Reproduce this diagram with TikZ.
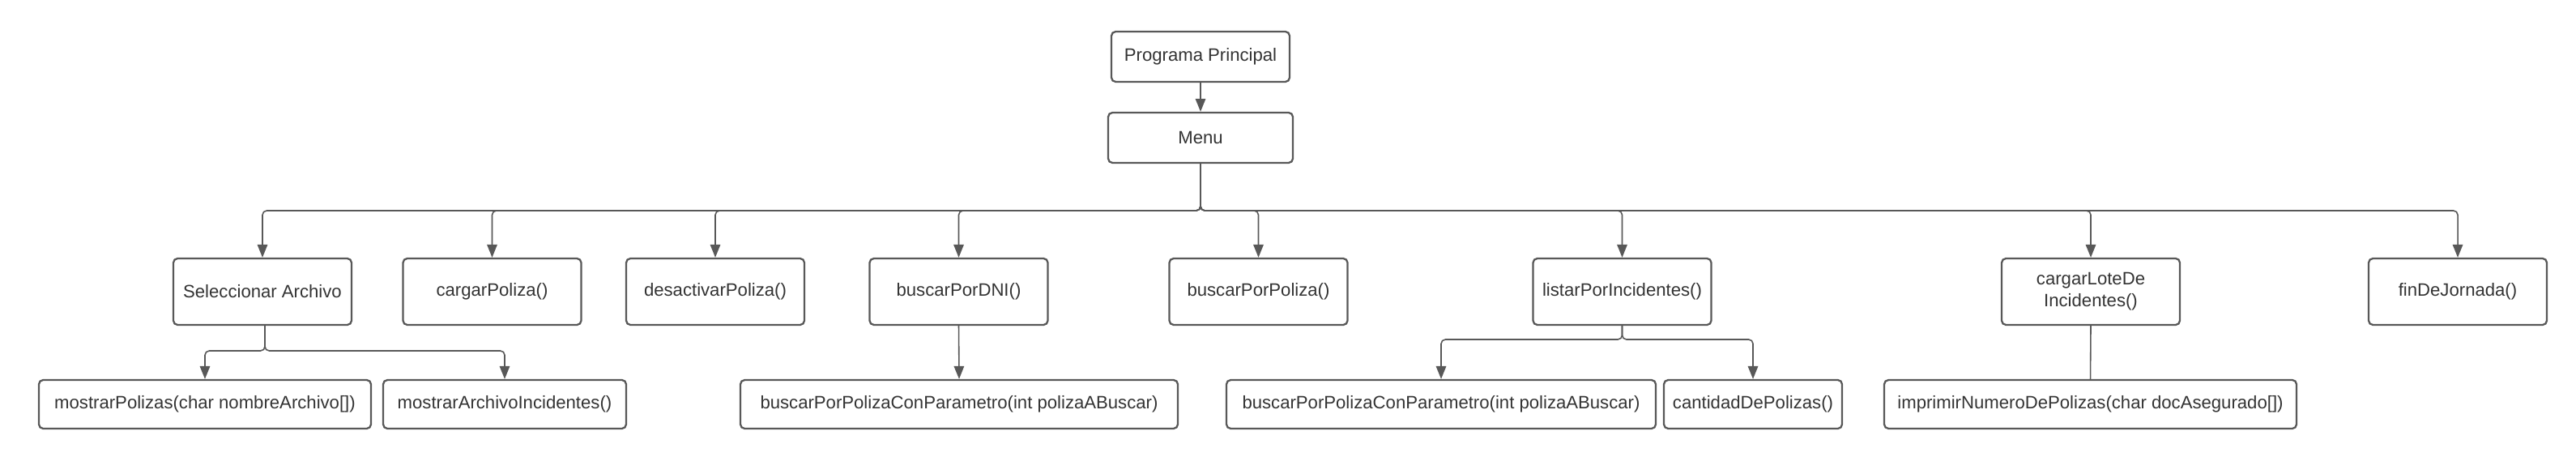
\documentclass[tikz,border=0pt]{standalone}
\usepackage{fontspec}
\setmainfont{Liberation Sans}
\usetikzlibrary{arrows.meta}
\definecolor{borde}{RGB}{88, 88, 88}
\definecolor{texto}{RGB}{51, 51, 51}

\begin{document}
\begin{tikzpicture}[
caja/.style={rectangle, draw=borde, line width=1.3pt, rounded corners=3pt, text=texto, font=\fontsize{12.6}{15.5}\selectfont, align=center, minimum height=1.64cm, minimum width=4.4cm},
hoja/.style={caja, minimum height=1.2cm},
flecha/.style={-{Triangle[length=0.32cm,width=0.25cm]}, draw=borde, line width=0.9pt, rounded corners=3pt},
linea/.style={draw=borde, line width=0.9pt, rounded corners=3pt},
]
\useasboundingbox (0,0) rectangle (63.6,-11.38);
%Nodes
\node[caja, minimum height=1.24cm]                    (prog)    at (29.64,-1.40) {Programa Principal};
\node[caja, minimum height=1.24cm, minimum width=4.56cm] (menu)  at (29.64,-3.40) {Menu};

\node[caja]      (selec)    at (6.48,-7.20) {Seleccionar Archivo};
\node[caja]      (cargar)   at (12.15,-7.20) {cargarPoliza()};
\node[caja]      (desact)   at (17.66,-7.20) {desactivarPoliza()};
\node[caja]      (dni)      at (23.67,-7.20) {buscarPorDNI()};
\node[caja]      (bpoliza)  at (31.07,-7.20) {buscarPorPoliza()};
\node[caja]      (listar)   at (40.05,-7.20) {listarPorIncidentes()};
\node[caja]      (lote)     at (51.62,-7.20) {cargarLoteDe\\Incidentes()};
\node[caja]      (fin)      at (60.68,-7.20) {finDeJornada()};

\node[hoja, minimum width=8.2cm]   (mpol)     at (5.06,-9.98) {mostrarPolizas(char nombreArchivo[])};
\node[hoja, minimum width=6cm]     (march)    at (12.46,-9.98) {mostrarArchivoIncidentes()};
\node[hoja, minimum width=10.8cm]  (bparam1)  at (23.68,-9.98) {buscarPorPolizaConParametro(int polizaABuscar)};
\node[hoja, minimum width=10.6cm]  (bparam2)  at (35.58,-9.98) {buscarPorPolizaConParametro(int polizaABuscar)};
\node[hoja]                        (cant)     at (43.28,-9.98) {cantidadDePolizas()};
\node[hoja, minimum width=10.18cm] (impr)     at (51.61,-9.98) {imprimirNumeroDePolizas(char docAsegurado[])};

\coordinate (bus)    at (29.64,-5.20);
\coordinate (splitS) at (6.54,-8.66);
\coordinate (splitL) at (40.05,-8.38);

\draw[flecha] (prog.south) -- (menu.north);

\draw[flecha] (menu.south) -- (bus) -| (selec.north);
\draw[flecha] (menu.south) -- (bus) -| (cargar.north);
\draw[flecha] (menu.south) -- (bus) -| (desact.north);
\draw[flecha] (menu.south) -- (bus) -| (dni.north);
\draw[flecha] (menu.south) -- (bus) -| (bpoliza.north);
\draw[flecha] (menu.south) -- (bus) -| (listar.north);
\draw[flecha] (menu.south) -- (bus) -| (lote.north);
\draw[flecha] (menu.south) -- (bus) -| (fin.north);

\draw[flecha] (selec.south -| splitS) -- (splitS) -| (mpol.north);
\draw[flecha] (selec.south -| splitS) -- (splitS) -| (march.north);

\draw[flecha] (dni.south) -- (bparam1.north);

\draw[flecha] (listar.south) -- (splitL) -| (bparam2.north);
\draw[flecha] (listar.south) -- (splitL) -| (cant.north);

\draw[linea] (lote.south) -- (impr.north);

\end{tikzpicture}
\end{document}
